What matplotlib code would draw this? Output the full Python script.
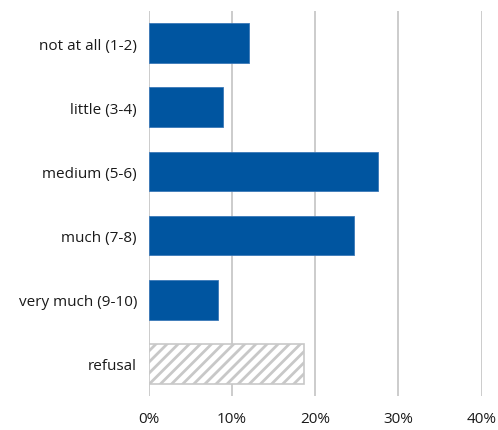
import numpy as np
import matplotlib
matplotlib.use("Agg")
import matplotlib.pyplot as plt
from matplotlib.ticker import FuncFormatter

plt.rcParams['font.family'] = ['Open Sans', 'DejaVu Sans']
plt.rcParams['hatch.color'] = '#c8c8c8'
plt.rcParams['hatch.linewidth'] = 2.0

categories = ["not at all (1-2)", "little (3-4)", "medium (5-6)",
              "much (7-8)", "very much (9-10)", "refusal"]
values = [12.0, 8.9, 27.6, 24.6, 8.3, 18.7]

fig = plt.figure(figsize=(4.98, 4.31), dpi=100)
ax = fig.add_axes([0.2986, 0.079, 0.6687, 0.893])

y = np.arange(len(categories))
ax.barh(y[:-1], values[:-1], height=0.62, color='#0055a0', edgecolor='#3a78b8', linewidth=0.6, zorder=3)
ax.barh(y[-1], values[-1], height=0.62, color='white', edgecolor='#c8c8c8', hatch='///', linewidth=1.2, zorder=3)

ax.set_xlim(0, 40)
ax.set_ylim(len(categories) - 0.5, -0.5)
ax.set_xticks([0, 10, 20, 30, 40])
ax.xaxis.set_major_formatter(FuncFormatter(lambda v, p: f"{v:.0f}%"))
ax.set_yticks(y)
ax.set_yticklabels(categories)
ax.tick_params(length=0, labelsize=11, colors='#1a1a1a')
ax.tick_params(axis='x', pad=11)
ax.tick_params(axis='y', pad=8.5)
ax.grid(axis='x', color='#c8c8c8', linewidth=1.3, zorder=0)
for s in ax.spines.values():
    s.set_visible(False)

fig.savefig("out.png", dpi=100)
